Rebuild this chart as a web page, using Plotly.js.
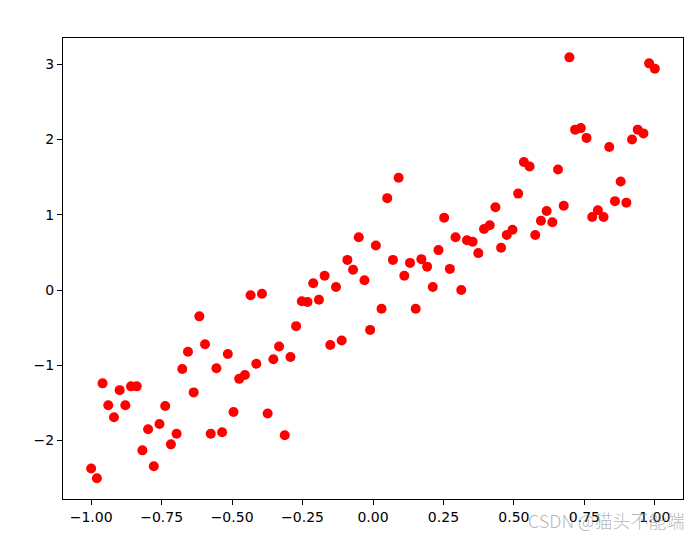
<!DOCTYPE html>
<html>
<head>
<meta charset="utf-8">
<script src="https://cdn.plot.ly/plotly-3.0.1.min.js"></script>
<style>html,body{margin:0;padding:0;background:#fff;}#chart{width:698px;height:538px;}</style>
</head>
<body>
<div id="chart"></div>
<script>
const xStart = -1.0;
const xEnd = 1.0;
const yValues = [
  -2.37, -2.50, -1.24, -1.53, -1.69, -1.33, -1.53, -1.28, -1.28, -2.13,
  -1.85, -2.34, -1.78, -1.54, -2.05, -1.91, -1.05, -0.82, -1.36, -0.35,
  -0.72, -1.91, -1.04, -1.89, -0.85, -1.62, -1.18, -1.13, -0.07, -0.98,
  -0.05, -1.64, -0.92, -0.75, -1.93, -0.89, -0.48, -0.15, -0.16, 0.09,
  -0.13, 0.19, -0.73, 0.04, -0.67, 0.40, 0.27, 0.70, 0.13, -0.53,
  0.59, -0.25, 1.22, 0.40, 1.49, 0.19, 0.36, -0.25, 0.41, 0.31,
  0.04, 0.53, 0.96, 0.28, 0.70, 0.00, 0.66, 0.64, 0.49, 0.81,
  0.86, 1.10, 0.56, 0.73, 0.80, 1.28, 1.70, 1.64, 0.73, 0.92,
  1.05, 0.90, 1.60, 1.12, 3.09, 2.13, 2.15, 2.02, 0.97, 1.06,
  0.97, 1.90, 1.18, 1.44, 1.16, 2.00, 2.13, 2.08, 3.01, 2.94
];
const xTicks = [-1.0, -0.75, -0.5, -0.25, 0.0, 0.25, 0.5, 0.75, 1.0];
const yTicks = [-2, -1, 0, 1, 2, 3];
const watermark = "CSDN @猫头不能端";

// evenly spaced x positions (the chart's x values are equally spaced samples)
const n = yValues.length;
const xValues = yValues.map((_, i) => xStart + i * (xEnd - xStart) / (n - 1));

const font = {family: "DejaVu Sans, sans-serif", size: 14, color: "#000"};
const axisCommon = {
  showgrid: false, zeroline: false, showline: true, linecolor: "#000", linewidth: 1,
  mirror: true, ticks: "outside", ticklen: 5, tickwidth: 1, tickcolor: "#000",
  tickfont: font
};

Plotly.newPlot("chart", [{
  x: xValues, y: yValues, type: "scatter", mode: "markers",
  marker: {color: "#ff0000", size: 10, line: {width: 0}},
  hoverinfo: "none"
}], {
  width: 698, height: 538,
  margin: {l: 63, r: 15, t: 38, b: 39},
  paper_bgcolor: "#fff", plot_bgcolor: "#fff",
  showlegend: false,
  xaxis: Object.assign({}, axisCommon, {range: [-1.1, 1.1], tickvals: xTicks, tickformat: ".2f"}),
  yaxis: Object.assign({}, axisCommon, {range: [-2.776, 3.347], tickvals: yTicks, tickformat: "d"}),
  annotations: [{
    text: watermark, xref: "paper", yref: "paper", x: 1.005, y: -0.012,
    xanchor: "right", yanchor: "top", showarrow: false,
    font: {family: "Noto Sans CJK SC, sans-serif", size: 18, weight: 300, color: "rgba(150,150,150,0.7)"}
  }]
}, {staticPlot: true});
</script>
</body>
</html>
